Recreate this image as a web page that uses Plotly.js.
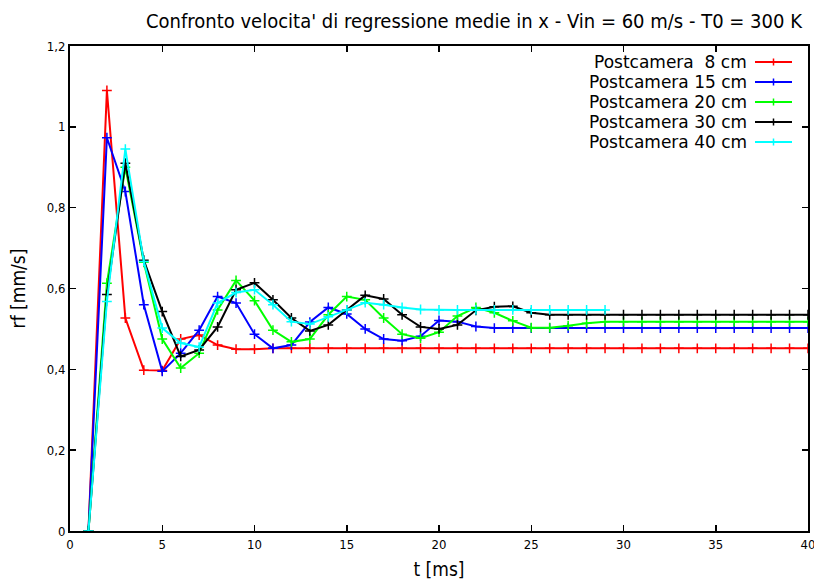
<!DOCTYPE html>
<html>
<head>
<meta charset="utf-8">
<script src="https://cdn.plot.ly/plotly-3.0.1.min.js"></script>
<style>html,body{margin:0;padding:0;background:#fff;}#chart{width:814px;height:583px;}</style>
</head>
<body>
<div id="chart"></div>
<script>
const t = [1,2,3,4,5,6,7,8,9,10,11,12,13,14,15,16,17,18,19,20,21,22,23,24,25,26,27,28,29,30,31,32,33,34,35,36,37,38,39,40];
const tCyan = [1,2,3,4,5,6,7,8,9,10,11,12,13,14,15,16,17,18,19,20,21,22,23,24,25,26,27,28,29];

const pc8 = [0,1.09,0.527,0.398,0.397,0.475,0.485,0.46,0.45,0.45,0.452,0.452,0.452,0.452,0.452,0.452,0.452,0.452,0.452,0.452,0.452,0.452,0.452,0.452,0.452,0.452,0.452,0.452,0.452,0.452,0.452,0.452,0.452,0.452,0.452,0.452,0.452,0.452,0.452,0.452];
const pc15 = [0,0.973,0.84,0.56,0.395,0.44,0.497,0.58,0.564,0.487,0.452,0.46,0.517,0.553,0.537,0.5,0.475,0.471,0.482,0.521,0.518,0.506,0.502,0.502,0.502,0.502,0.502,0.502,0.502,0.502,0.502,0.502,0.502,0.502,0.502,0.502,0.502,0.502,0.502,0.502];
const pc20 = [0,0.613,0.9,0.665,0.475,0.403,0.44,0.547,0.62,0.57,0.497,0.468,0.475,0.535,0.58,0.572,0.527,0.487,0.477,0.492,0.532,0.553,0.54,0.52,0.503,0.503,0.508,0.514,0.518,0.518,0.518,0.518,0.518,0.518,0.518,0.518,0.518,0.518,0.518,0.518];
const pc30 = [0,0.585,0.91,0.67,0.543,0.432,0.448,0.505,0.597,0.614,0.572,0.527,0.495,0.51,0.547,0.583,0.574,0.535,0.505,0.5,0.51,0.546,0.555,0.556,0.54,0.535,0.535,0.535,0.535,0.535,0.535,0.535,0.535,0.535,0.535,0.535,0.535,0.535,0.535,0.535];
const pc40 = [0,0.568,0.945,0.667,0.502,0.465,0.455,0.564,0.59,0.597,0.56,0.518,0.512,0.53,0.547,0.565,0.56,0.553,0.548,0.547,0.547,0.547,0.547,0.547,0.547,0.547,0.547,0.547,0.547];

const names = ['Postcamera  8 cm','Postcamera 15 cm','Postcamera 20 cm','Postcamera 30 cm','Postcamera 40 cm'];
const colors = ['#ff0000','#0000ff','#00ff00','#000000','#00ffff'];
const xs = [t,t,t,t,tCyan];
const ys = [pc8,pc15,pc20,pc30,pc40];

const FONT = '"DejaVu Sans Condensed", "Liberation Sans Narrow", "Liberation Sans", Arial, sans-serif';
const LEGFONT = '"DejaVu Sans", "Liberation Sans", Arial, sans-serif';

const traces = ys.map((y,i)=>({
  x: xs[i], y: y, name: names[i], type:'scatter', mode:'lines+markers',
  line:{color:colors[i], width:2},
  marker:{symbol:'cross-thin', size:7, color:colors[i], line:{color:colors[i], width:1.5}},
  showlegend:false
}));

// legend built manually (text right-aligned, sample on right)
const legY = [62,82,102,122,142];
const annotations = names.map((n,i)=>({
  xref:'paper', yref:'paper', x:(748-70)/738, y:(531-legY[i])/485,
  xanchor:'right', yanchor:'middle', text:n.replace('  ','&nbsp; '), showarrow:false,
  borderpad:0,
  font:{family:LEGFONT, size:17, color:'#000'}
}));
const shapes = [];
names.forEach((n,i)=>{
  const yy = (531-legY[i])/485;
  shapes.push({type:'line', xref:'paper', yref:'paper', x0:(755-70)/738, x1:(792-70)/738, y0:yy, y1:yy, line:{color:colors[i], width:2}});
  shapes.push({type:'line', xref:'paper', yref:'paper', x0:(773.5-70)/738, x1:(773.5-70)/738, y0:yy-3.5/485, y1:yy+3.5/485, line:{color:colors[i], width:1.5}});
});

const layout = {
  width:814, height:583,
  margin:{l:70, r:6, t:46, b:52},
  paper_bgcolor:'#fff', plot_bgcolor:'#fff',
  separators:',.',
  font:{family:FONT, size:13, color:'#000'},
  title:{text:"Confronto velocita' di regressione medie in x - Vin = 60 m/s - T0 = 300 K",
    x:474/814, xref:'container', xanchor:'center', y:1-21/583, yref:'container', yanchor:'middle',
    font:{family:FONT, size:20, color:'#000'}},
  xaxis:{range:[0,40], dtick:5, tick0:0, ticks:'inside', ticklen:6, tickwidth:1.5, tickcolor:'#000',
    showline:true, linecolor:'#000', linewidth:2, mirror:'ticks', showgrid:false, zeroline:false,
    ticklabeloverflow:'allow',
    tickfont:{family:FONT, size:13}, title:{text:'t [ms]', font:{family:FONT, size:19}, standoff:12}},
  yaxis:{range:[0,1.2], dtick:0.2, tick0:0, ticks:'inside', ticklen:6, tickwidth:1.5, tickcolor:'#000',
    showline:true, linecolor:'#000', linewidth:2, mirror:'ticks', showgrid:false, zeroline:false,
    tickfont:{family:FONT, size:13}, title:{text:'rf [mm/s]', font:{family:FONT, size:19}, standoff:16}},
  annotations: annotations,
  shapes: shapes
};

Plotly.newPlot('chart', traces, layout, {staticPlot:true, displayModeBar:false});
</script>
</body>
</html>
